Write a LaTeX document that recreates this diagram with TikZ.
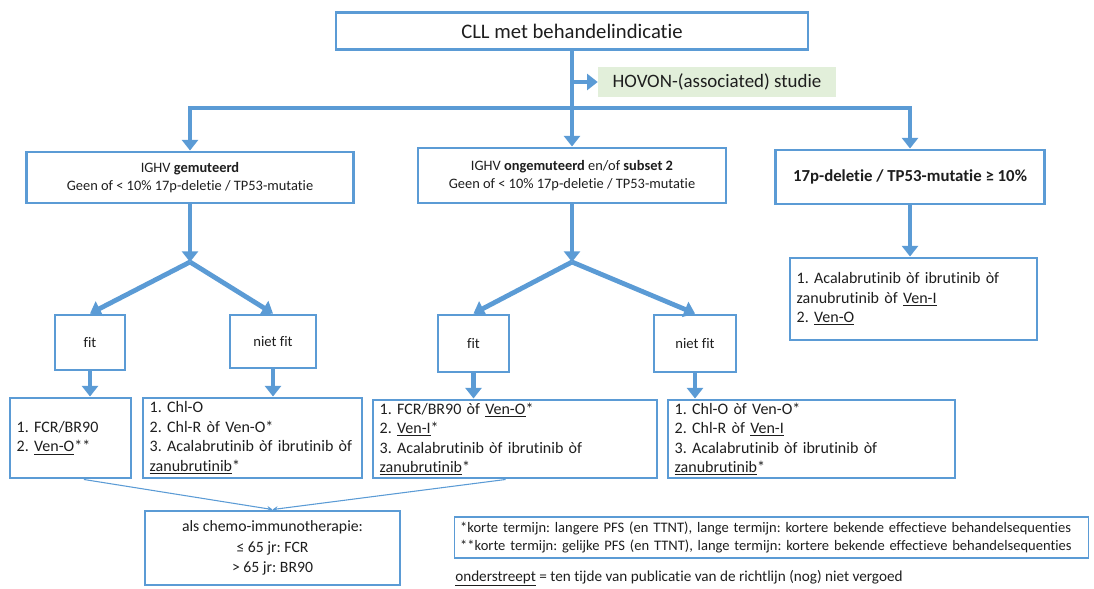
\documentclass[tikz,border=0pt]{standalone}
\definecolor{flowBlue}{HTML}{5B9BD5}
\definecolor{boxBlue}{HTML}{5B9BD5}
\definecolor{studyGreen}{HTML}{E2EFDA}
\definecolor{textDark}{HTML}{1E1E1E}
\usepackage{fontspec}
\setmainfont{Carlito}[RawFeature={-liga}]
\usepackage{tikz}
\usetikzlibrary{arrows.meta, positioning}
\frenchspacing

\begin{document}
\begin{tikzpicture}[x=0.75pt, y=-0.75pt,
    box/.style={draw=boxBlue, line width=2.2pt, fill=white, text=textDark, inner sep=0pt, align=center},
    listbox/.style={box, align=left, inner xsep=5pt, font=\fontsize{12}{14.6}\selectfont},
    flow/.style={draw=flowBlue, line width=3.6pt, -{Triangle[width=12pt,length=8pt]}},
    thinflow/.style={draw=flowBlue, line width=0.8pt, -{Stealth[length=4pt,width=4pt]}}]
      \useasboundingbox (0,0) rectangle (1094,588);

      \node[box, minimum width=354pt, minimum height=27.75pt, font=\fontsize{15.5}{18}\selectfont] (title) at (572,31) {CLL met behandelindicatie};
      \node[fill=studyGreen, text=textDark, inner sep=0pt, minimum width=178.5pt, minimum height=22.5pt,
            font=\fontsize{14.2}{16}\selectfont] (hovon) at (717,82) {HOVON-(associated) studie};

      \node[box, minimum width=245.25pt, minimum height=38.25pt, font=\fontsize{10.8}{14}\selectfont] (ighvMut) at (190,177.5)
        {IGHV \textbf{gemuteerd}\\Geen of < 10\% 17p-deletie / TP53-mutatie};
      \node[box, minimum width=231pt, minimum height=41.25pt, font=\fontsize{10.8}{14}\selectfont] (ighvUnmut) at (572,175.5)
        {IGHV \textbf{ongemuteerd} en/of \textbf{subset 2}\\Geen of < 10\% 17p-deletie / TP53-mutatie};
      \node[box, minimum width=201.75pt, minimum height=40.5pt, font=\fontsize{12.6}{15}\selectfont] (del17p) at (910,177)
        {\textbf{17p-deletie / TP53-mutatie ≥ 10\%}};

      \node[box, minimum width=52.5pt, minimum height=41.25pt, font=\fontsize{11}{13}\selectfont] (fitL) at (90,342.5) {fit};
      \node[box, minimum width=64.5pt, minimum height=39.75pt, font=\fontsize{11}{13}\selectfont] (unfitL) at (273,341.5) {niet fit};
      \node[box, minimum width=53.25pt, minimum height=42.75pt, font=\fontsize{11}{13}\selectfont] (fitM) at (473.5,343.5) {fit};
      \node[box, minimum width=61.5pt, minimum height=42.75pt, font=\fontsize{11}{13}\selectfont] (unfitM) at (695,343.5) {niet fit};

      \node[listbox, text width=80.75pt, minimum height=60pt] (listL1) at (70.5,438)
        {1. FCR/BR90\\2. \underline{Ven-O}**};
      \node[listbox, text width=154.25pt, minimum height=60pt] (listL2) at (252.5,438)
        {1. Chl-O\\2. Chl-R òf Ven-O*\\3. Acalabrutinib òf ibrutinib òf\\\underline{zanubrutinib}*};
      \node[listbox, text width=203pt, minimum height=58.5pt] (listM1) at (515,439)
        {1. FCR/BR90 òf \underline{Ven-O}*\\2. \underline{Ven-I}*\\3. Acalabrutinib òf ibrutinib òf\\\underline{zanubrutinib}*};
      \node[listbox, text width=205.25pt, minimum height=58.5pt] (listM2) at (811.5,439)
        {1. Chl-O òf Ven-O*\\2. Chl-R òf \underline{Ven-I}\\3. Acalabrutinib òf ibrutinib òf\\\underline{zanubrutinib}*};
      \node[listbox, text width=175.25pt, minimum height=61.5pt] (listR) at (913.5,299)
        {1. Acalabrutinib òf ibrutinib òf\\zanubrutinib òf \underline{Ven-I}\\2. \underline{Ven-O}};

      \node[box, minimum width=191.25pt, minimum height=55.5pt, font=\fontsize{11.8}{15.4}\selectfont] (chemo) at (272.5,548)
        {als chemo-immunotherapie:\\≤ 65 jr: FCR\\> 65 jr: BR90};
      \node[draw=boxBlue, line width=0.8pt, text=textDark, inner xsep=4pt, inner ysep=0pt, align=left,
            minimum height=30.75pt, text width=467pt, font=\fontsize{10.9}{13.5}\selectfont] (footnote) at (771.5,537.5)
        {*korte termijn: langere PFS (en TTNT), lange termijn: kortere bekende effectieve behandelsequenties\\{}%
         **korte termijn: gelijke PFS (en TTNT), lange termijn: kortere bekende effectieve behandelsequenties};
      \node[anchor=west, inner sep=0pt, text=textDark, font=\fontsize{11.4}{13}\selectfont] (legend) at (455,578)
        {\underline{onderstreept} = ten tijde van publicatie van de richtlijn (nog) niet vergoed};

      \coordinate (split) at (572,108);
      \coordinate (forkL) at (190,262);
      \coordinate (forkM) at (572,262);

      \draw[flow] (title.south) -- (ighvUnmut.north);
      \draw[flow] (title.south |- hovon.west) -- (hovon.west);
      \draw[flow] (split) -| (ighvMut.north);
      \draw[flow] (split) -| (del17p.north);

      \draw[flow] (ighvMut.south) -- (forkL);
      \draw[flow] (forkL) -- (fitL.north);
      \draw[flow] (forkL) -- (unfitL.north);
      \draw[flow] (ighvUnmut.south) -- (forkM);
      \draw[flow] (forkM) -- (fitM.north);
      \draw[flow] (forkM) -- (unfitM.north);
      \draw[flow] (del17p.south) -- (del17p.south |- listR.north);

      \draw[flow] (fitL.south) -- (fitL.south |- listL1.north);
      \draw[flow] (unfitL.south) -- (unfitL.south |- listL2.north);
      \draw[flow] (fitM.south) -- (fitM.south |- listM1.north);
      \draw[flow] (unfitM.south) -- (unfitM.south |- listM2.north);

      \draw[thinflow] ([xshift=10pt]listL1.south) -- (chemo.north);
      \draw[thinflow] ([xshift=-7pt]listM1.south) -- (chemo.north);
    \end{tikzpicture}
\end{document}
